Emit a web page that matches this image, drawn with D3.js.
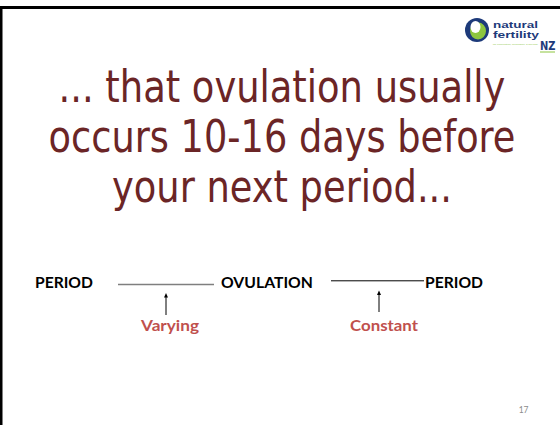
<!DOCTYPE html>
<html>
<head>
<meta charset="utf-8">
<script src="https://cdn.jsdelivr.net/npm/d3@7"></script>
<style>
  html, body { margin: 0; padding: 0; background: #fff; }
  svg { display: block; }
</style>
</head>
<body>
<div id="chart"></div>
<script>
// ---- content ----
const titleLines = ["... that ovulation usually", "occurs 10-16 days before", "your next period..."];
const stages = ["PERIOD", "OVULATION", "PERIOD"];
const intervals = ["Varying", "Constant"];
const pageNumber = "17";
const logoWords = ["natural", "fertility"];

const W = 560, H = 425;
const svg = d3.select("#chart").append("svg").attr("width", W).attr("height", H);
svg.append("rect").attr("width", W).attr("height", H).attr("fill", "#fff");

// slide frame (top + left)
svg.append("rect").attr("x", 0).attr("y", 6).attr("width", W).attr("height", 3).attr("fill", "#000");
svg.append("rect").attr("x", 0).attr("y", 6).attr("width", 2.5).attr("height", H - 6).attr("fill", "#000");

// fit a text to a target width by horizontal scaling about its anchor
function fitWidth(sel, widthFn) {
  sel.each(function (d, i) {
    const t = d3.select(this);
    const natural = this.getComputedTextLength();
    const target = widthFn(d, i);
    const sx = target / natural;
    const x0 = +t.attr("x"), y0 = +t.attr("y");
    t.attr("transform", `translate(${x0},${y0}) scale(${sx},1) translate(${-x0},${-y0})`);
  });
}

// ---- title ----
const titleY = d3.scalePoint().domain(d3.range(titleLines.length)).range([102, 202]);
const titleWidths = [447, 467, 340];
const titleCx = 282;
svg.append("g").selectAll("text").data(titleLines).join("text")
  .attr("x", titleCx)
  .attr("y", (d, i) => titleY(i))
  .attr("text-anchor", "middle")
  .attr("font-family", "'DejaVu Sans Condensed', 'DejaVu Sans', sans-serif")
  .attr("font-size", 45)
  .attr("fill", "#6B2526")
  .text(d => d)
  .call(fitWidth, (d, i) => titleWidths[i]);

// ---- diagram ----
const x = d3.scaleOrdinal().domain([0, 1, 2]).range([35, 221, 425]); // stage label left edges
const stageWidths = [58, 92, 58];
const g = svg.append("g").attr("font-family", "Lato, 'Open Sans', sans-serif").attr("font-weight", "bold");
g.selectAll("text.stage").data(stages).join("text")
  .attr("class", "stage")
  .attr("x", (d, i) => x(i))
  .attr("y", 288)
  .attr("font-size", 14.5)
  .attr("fill", "#000")
  .text(d => d)
  .call(fitWidth, (d, i) => stageWidths[i]);

// connecting lines
const links = [
  { x1: 118, x2: 214, y: 284.5, stroke: "#7f7f7f", w: 1.5, arrowX: 166, a1: 293, a2: 315 },
  { x1: 331, x2: 424, y: 280.8, stroke: "#000", w: 1, arrowX: 379, a1: 290.5, a2: 312 }
];
g.selectAll("line.link").data(links).join("line")
  .attr("class", "link")
  .attr("x1", d => d.x1).attr("x2", d => d.x2)
  .attr("y1", d => d.y).attr("y2", d => d.y)
  .attr("stroke", d => d.stroke).attr("stroke-width", d => d.w);

// arrows
g.selectAll("line.arrow").data(links).join("line")
  .attr("class", "arrow")
  .attr("x1", d => d.arrowX).attr("x2", d => d.arrowX)
  .attr("y1", d => d.a1 + 3).attr("y2", d => d.a2)
  .attr("stroke", "#000").attr("stroke-width", 1);
g.selectAll("path.head").data(links).join("path")
  .attr("class", "head")
  .attr("d", d => `M${d.arrowX},${d.a1} L${d.arrowX - 2},${d.a1 + 4.5} L${d.arrowX + 2},${d.a1 + 4.5} Z`)
  .attr("fill", "#000");

// interval labels
const labelCx = [170, 384];
const labelWidths = [58, 68];
g.selectAll("text.interval").data(intervals).join("text")
  .attr("class", "interval")
  .attr("x", (d, i) => labelCx[i])
  .attr("y", 331.5)
  .attr("text-anchor", "middle")
  .attr("font-size", 14.5)
  .attr("fill", "#C0504D")
  .text(d => d)
  .call(fitWidth, (d, i) => labelWidths[i]);

// page number
svg.append("text").attr("x", 528.5).attr("y", 413).attr("text-anchor", "end")
  .attr("font-family", "Lato, sans-serif").attr("font-size", 8.5).attr("fill", "#8c8c8c")
  .text(pageNumber);

// ---- logo ----
const logo = svg.append("g");
logo.append("circle").attr("cx", 477).attr("cy", 30).attr("r", 12).attr("fill", "#1d3a7a");
logo.append("ellipse").attr("cx", 478).attr("cy", 31).attr("rx", 8).attr("ry", 8.5).attr("fill", "#8dc63f");
logo.append("ellipse").attr("cx", 475.5).attr("cy", 27).attr("rx", 5).attr("ry", 6).attr("fill", "#fff");
logo.selectAll("text.word").data(logoWords).join("text")
  .attr("class", "word")
  .attr("font-family", "'Liberation Sans', Arial, sans-serif")
  .attr("font-weight", "bold").attr("font-size", 9).attr("fill", "#1d3a7a")
  .attr("x", 493).attr("y", (d, i) => 28.5 + i * 9.6)
  .text(d => d)
  .call(fitWidth, (d, i) => [45, 46][i]);
logo.append("text").attr("x", 493).attr("y", 45.5).attr("font-family", "sans-serif")
  .attr("font-size", 2.5).attr("fill", "#8dc63f")
  .text("for conception, pregnancy & beyond").call(fitWidth, () => 45);
logo.append("text").attr("x", 540).attr("y", 50).attr("font-family", "'DejaVu Sans', sans-serif")
  .attr("font-weight", "bold").attr("font-size", 12).attr("fill", "#1d3a7a")
  .text("NZ").call(fitWidth, () => 15.5);
logo.append("rect").attr("x", 540).attr("y", 51.5).attr("width", 15).attr("height", 1).attr("fill", "#8dc63f");
</script>
</body>
</html>
